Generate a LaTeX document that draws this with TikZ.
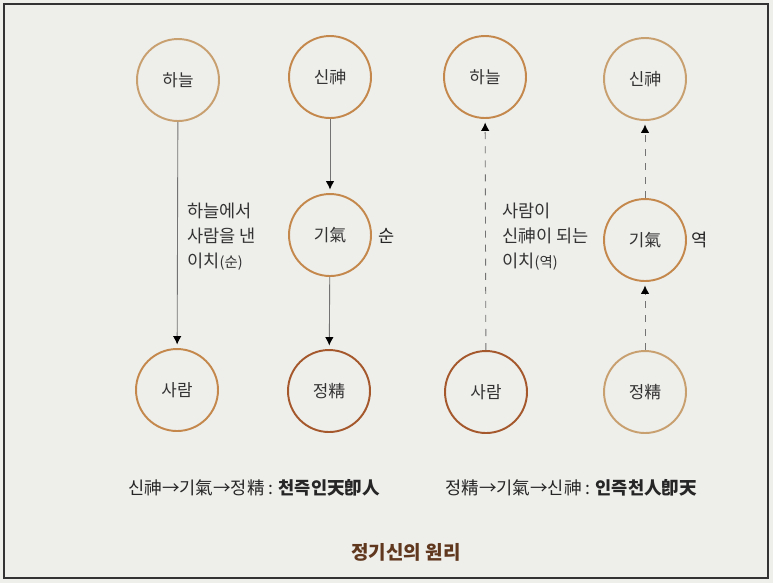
\documentclass[tikz,border=0pt]{standalone}
\usepackage{fontspec}
\setmainfont{Noto Sans CJK KR}
\usetikzlibrary{arrows.meta}

\definecolor{paper}{RGB}{238,238,235}
\definecolor{ringlight}{RGB}{200,160,112}
\definecolor{ringmid}{RGB}{196,136,76}
\definecolor{ringdark}{RGB}{164,88,44}
\definecolor{titlebrown}{RGB}{96,56,30}

\tikzset{
  ring/.style={circle, draw=#1, line width=1.1pt, minimum size=1.64cm, inner sep=0pt,
    font=\fontsize{9.6}{11}\selectfont, text=black!80},
  ring/.default=ringmid,
  flow/.style={draw=black!55, line width=0.5pt, shorten >=2pt,
    -{Latex[length=1.7mm, width=1.7mm, color=black]}},
  backflow/.style={flow, dash pattern=on 4pt off 4pt},
  note/.style={font=\fontsize{10}{14.3}\selectfont, text=black!80, align=left, inner sep=0pt},
  formula/.style={font=\fontsize{10}{12}\selectfont, text=black!85, inner sep=0pt}
}

\begin{document}
\begin{tikzpicture}[x=0.02cm, y=-0.02cm]
      \fill[paper] (0,0) rectangle (773,583);
      \draw[black!80, line width=0.85pt] (4,4) rectangle (768,578);
      \useasboundingbox (0,0) rectangle (773,583);

      \node[ring=ringlight] (hanulL) at (178,80) {하늘};
      \node[ring=ringmid] (saramL) at (177,390) {사람};
      \node[ring=ringmid] (sinL) at (330,77) {신神};
      \node[ring=ringmid] (giL) at (330,235) {기氣};
      \node[ring=ringdark] (jeongL) at (329,391) {정精};

      \node[ring=ringmid] (hanulR) at (485,77) {하늘};
      \node[ring=ringdark] (saramR) at (486,392) {사람};
      \node[ring=ringlight] (sinR) at (645,79) {신神};
      \node[ring=ringmid] (giR) at (645,240) {기氣};
      \node[ring=ringlight] (jeongR) at (645,392) {정精};

      \draw[flow] (hanulL) -- (saramL);
      \draw[flow] (sinL) -- (giL);
      \draw[flow] (giL) -- (jeongL);

      \draw[backflow] (saramR) -- (hanulR);
      \draw[backflow] (jeongR) -- (giR);
      \draw[backflow] (giR) -- (sinR);

      \node[note, anchor=west] (reasonL) at (187,237)
        {하늘에서\\사람을 낸\\이치{\fontsize{8.2}{9}\selectfont(순)}};
      \node[note, anchor=west] (reasonR) at (502,237)
        {사람이\\신神이 되는\\이치{\fontsize{8.2}{9}\selectfont(역)}};
      \node[formula] (sunL) at (387,236) {순};
      \node[formula] (yeokR) at (700,240) {역};

      \node[formula, anchor=west] (orderL) at (128,488)
        {신神→기氣→정精 : {\bfseries 천즉인天卽人}};
      \node[formula, anchor=west] (orderR) at (445,488)
        {정精→기氣→신神 : {\bfseries 인즉천人卽天}};

      \node[font=\fontsize{10.8}{12}\selectfont\bfseries, text=titlebrown] (title) at (406,552)
        {정기신의 원리};
\end{tikzpicture}
\end{document}
